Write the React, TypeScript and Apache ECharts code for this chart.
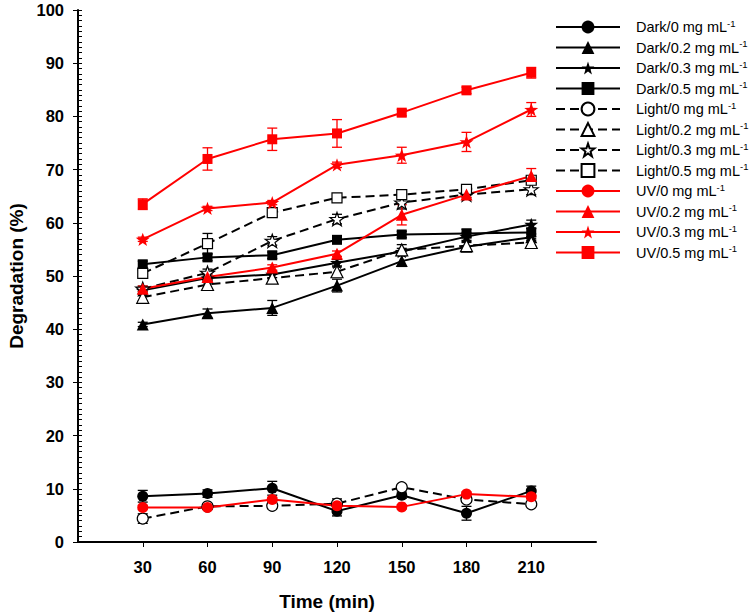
import React, { useEffect, useRef } from "react";
import * as echarts from "echarts";

const times = [30, 60, 90, 120, 150, 180, 210];

const dark0 = [8.6, 9.1, 10.1, 5.8, 8.8, 5.4, 9.6];
const dark0Err = [1.1, 0.7, 1.3, 0.9, 0.6, 1.3, 0.9];
const dark02 = [40.9, 43.0, 44.0, 48.2, 52.8, 55.5, 57.3];
const dark02Err = [0.4, 0.8, 1.4, 1.2, 1.0, 0.8, 0.6];
const dark03 = [47.3, 49.6, 50.3, 52.5, 54.6, 57.4, 59.7];
const dark03Err = [0.5, 0.6, 0.6, 0.6, 0.6, 0.7, 0.8];
const dark05 = [52.2, 53.5, 53.9, 56.8, 57.8, 58.0, 58.2];
const dark05Err = [0.6, 0.6, 0.6, 0.6, 0.6, 0.8, 0.8];

const light0 = [4.4, 6.7, 6.8, 7.2, 10.3, 8.0, 7.1];
const light0Err = [0.9, 0.5, 0.4, 0.9, 0.4, 0.5, 0.4];
const light02 = [46.0, 48.4, 49.6, 50.8, 54.9, 55.7, 56.3];
const light02Err = [0.7, 1.0, 0.7, 0.9, 1.0, 0.8, 0.7];
const light03 = [47.6, 50.6, 56.6, 60.7, 63.8, 65.3, 66.3];
const light03Err = [0.5, 0.7, 0.8, 0.9, 1.2, 0.6, 1.0];
const light05 = [50.5, 56.1, 61.9, 64.7, 65.3, 66.3, 68.0];
const light05Err = [0.6, 1.9, 0.6, 0.5, 0.5, 0.5, 0.5];

const uv0 = [6.5, 6.5, 8.0, 6.8, 6.6, 9.0, 8.5];
const uv0Err = [0.4, 0.4, 0.4, 0.4, 0.4, 0.4, 0.4];
const uv02 = [47.6, 49.8, 51.6, 54.2, 61.5, 65.3, 68.8];
const uv02Err = [0.5, 0.6, 0.5, 0.5, 1.9, 0.5, 1.4];
const uv03 = [56.9, 62.7, 63.8, 70.9, 72.7, 75.2, 81.3];
const uv03Err = [0.4, 0.4, 0.4, 0.5, 1.5, 1.8, 1.3];
const uv05 = [63.5, 72.0, 75.7, 76.8, 80.7, 84.9, 88.2];
const uv05Err = [1.0, 2.1, 2.1, 2.6, 0.6, 0.6, 1.0];

const yTicks = [0, 10, 20, 30, 40, 50, 60, 70, 80, 90, 100];

const STAR =
  "path://M50,0L61.8,33.8L97.6,34.5L69,56.2L79.4,90.5L50,70L20.6,90.5L31,56.2L2.4,34.5L38.2,33.8Z";

const FONT = "'Liberation Sans', Arial, Helvetica, sans-serif";
const RED = "#ff0000";
const BLACK = "#000000";

type Def = {
  name: string;
  values: number[];
  errs: number[];
  color: string;
  dashed: boolean;
  open: boolean;
  symbol: string;
  size: number;
};

const defs: Def[] = [
  { name: "Dark/0 mg mL", values: dark0, errs: dark0Err, color: BLACK, dashed: false, open: false, symbol: "circle", size: 11 },
  { name: "Dark/0.2 mg mL", values: dark02, errs: dark02Err, color: BLACK, dashed: false, open: false, symbol: "triangle", size: 12 },
  { name: "Dark/0.3 mg mL", values: dark03, errs: dark03Err, color: BLACK, dashed: false, open: false, symbol: STAR, size: 14 },
  { name: "Dark/0.5 mg mL", values: dark05, errs: dark05Err, color: BLACK, dashed: false, open: false, symbol: "rect", size: 10 },
  { name: "Light/0 mg mL", values: light0, errs: light0Err, color: BLACK, dashed: true, open: true, symbol: "circle", size: 11 },
  { name: "Light/0.2 mg mL", values: light02, errs: light02Err, color: BLACK, dashed: true, open: true, symbol: "triangle", size: 12 },
  { name: "Light/0.3 mg mL", values: light03, errs: light03Err, color: BLACK, dashed: true, open: true, symbol: STAR, size: 14 },
  { name: "Light/0.5 mg mL", values: light05, errs: light05Err, color: BLACK, dashed: true, open: true, symbol: "rect", size: 10 },
  { name: "UV/0 mg mL", values: uv0, errs: uv0Err, color: RED, dashed: false, open: false, symbol: "circle", size: 11 },
  { name: "UV/0.2 mg mL", values: uv02, errs: uv02Err, color: RED, dashed: false, open: false, symbol: "triangle", size: 12 },
  { name: "UV/0.3 mg mL", values: uv03, errs: uv03Err, color: RED, dashed: false, open: false, symbol: STAR, size: 14 },
  { name: "UV/0.5 mg mL", values: uv05, errs: uv05Err, color: RED, dashed: false, open: false, symbol: "rect", size: 10 },
];

export default function App() {
  const ref = useRef<HTMLDivElement>(null);

  useEffect(() => {
    document.body.style.margin = "0";
    if (!ref.current) return;
    const chart = echarts.init(ref.current, undefined, { renderer: "svg" });

    const errSeries: any[] = defs.map((d) => ({
      type: "custom",
      name: d.name + " err",
      z: 1,
      silent: true,
      data: times.map((t, i) => [t, d.values[i] - d.errs[i], d.values[i] + d.errs[i]]),
      encode: { x: 0, y: [1, 2] },
      renderItem: (params: any, api: any) => {
        const x = api.value(0);
        const lo = api.coord([x, api.value(1)]);
        const hi = api.coord([x, api.value(2)]);
        const hw = 5;
        const st = { stroke: d.color, lineWidth: 1.3 };
        return {
          type: "group",
          children: [
            { type: "line", shape: { x1: lo[0], y1: lo[1], x2: hi[0], y2: hi[1] }, style: st },
            { type: "line", shape: { x1: lo[0] - hw, y1: lo[1], x2: lo[0] + hw, y2: lo[1] }, style: st },
            { type: "line", shape: { x1: hi[0] - hw, y1: hi[1], x2: hi[0] + hw, y2: hi[1] }, style: st },
          ],
        };
      },
    }));

    const lineSeries: any[] = defs.map((d) => ({
      type: "line",
      name: d.name,
      z: 3,
      data: times.map((t, i) => [t, d.values[i]]),
      symbol: d.symbol,
      symbolSize: d.size,
      symbolKeepAspect: true,
      showAllSymbol: true,
      lineStyle: { color: d.color, width: 2, type: d.dashed ? [9, 5] : "solid" },
      itemStyle: d.open
        ? { color: "#ffffff", borderColor: BLACK, borderWidth: 1.2, opacity: 1 }
        : { color: d.color, borderWidth: 0, opacity: 1 },
      emphasis: { disabled: true },
    }));

    chart.setOption({
      animation: false,
      backgroundColor: "#ffffff",
      grid: { left: 78, right: 155, top: 10, bottom: 74, outerBoundsMode: "none" },
      legend: {
        orient: "vertical",
        left: 555,
        top: 18,
        padding: 0,
        itemWidth: 64,
        itemHeight: 16,
        itemGap: 4,
        data: defs.map((d) => d.name),
        formatter: (name: string) => `{t|${name}}{s|-1}`,
        textStyle: {
          padding: [0, 0, 0, 11],
          rich: {
            t: { fontFamily: FONT, fontSize: 14.5, color: "#000", lineHeight: 18 },
            s: { fontFamily: FONT, fontSize: 9.5, color: "#000", verticalAlign: "top", lineHeight: 12 },
          },
        },
        selectedMode: false,
      },
      xAxis: {
        type: "value",
        min: 0,
        max: 240,
        interval: 30,
        name: "Time (min)",
        nameLocation: "middle",
        nameGap: 50,
        nameTextStyle: { fontFamily: FONT, fontSize: 19, fontWeight: "bold", color: "#000", padding: [0, 20, 0, 0] },
        axisLine: { lineStyle: { color: "#000", width: 2 } },
        axisTick: { show: true, inside: false, length: 5, customValues: times, lineStyle: { color: "#000", width: 1 } },
        axisLabel: {
          customValues: times,
          margin: 16,
          fontFamily: FONT,
          fontSize: 16.5,
          fontWeight: "bold",
          color: "#000",
        },
        splitLine: { show: false },
      },
      yAxis: [
        {
          type: "value",
          min: 0,
          max: 100,
          interval: 10,
          position: "left",
          name: "Degradation (%)",
          nameLocation: "middle",
          nameGap: 47,
          nameTextStyle: { fontFamily: FONT, fontSize: 19, fontWeight: "bold", color: "#000" },
          axisLine: { show: true, lineStyle: { color: "#000", width: 2 } },
          axisTick: { show: true, inside: false, length: 5, lineStyle: { color: "#000", width: 1 } },
          axisLabel: {
            customValues: yTicks,
            margin: 14,
            fontFamily: FONT,
            fontSize: 16.5,
            fontWeight: "bold",
            color: "#000",
          },
          splitLine: { show: false },
        },
        {
          type: "value",
          min: 0,
          max: 100,
          interval: 1,
          position: "left",
          axisLine: { show: false },
          axisTick: { show: true, inside: true, length: 4, lineStyle: { color: "#000", width: 1 } },
          axisLabel: { show: false },
          splitLine: { show: false },
        },
      ],
      series: [...errSeries, ...lineSeries],
    });

    return () => chart.dispose();
  }, []);

  return <div ref={ref} style={{ width: 751, height: 616 }} />;
}
